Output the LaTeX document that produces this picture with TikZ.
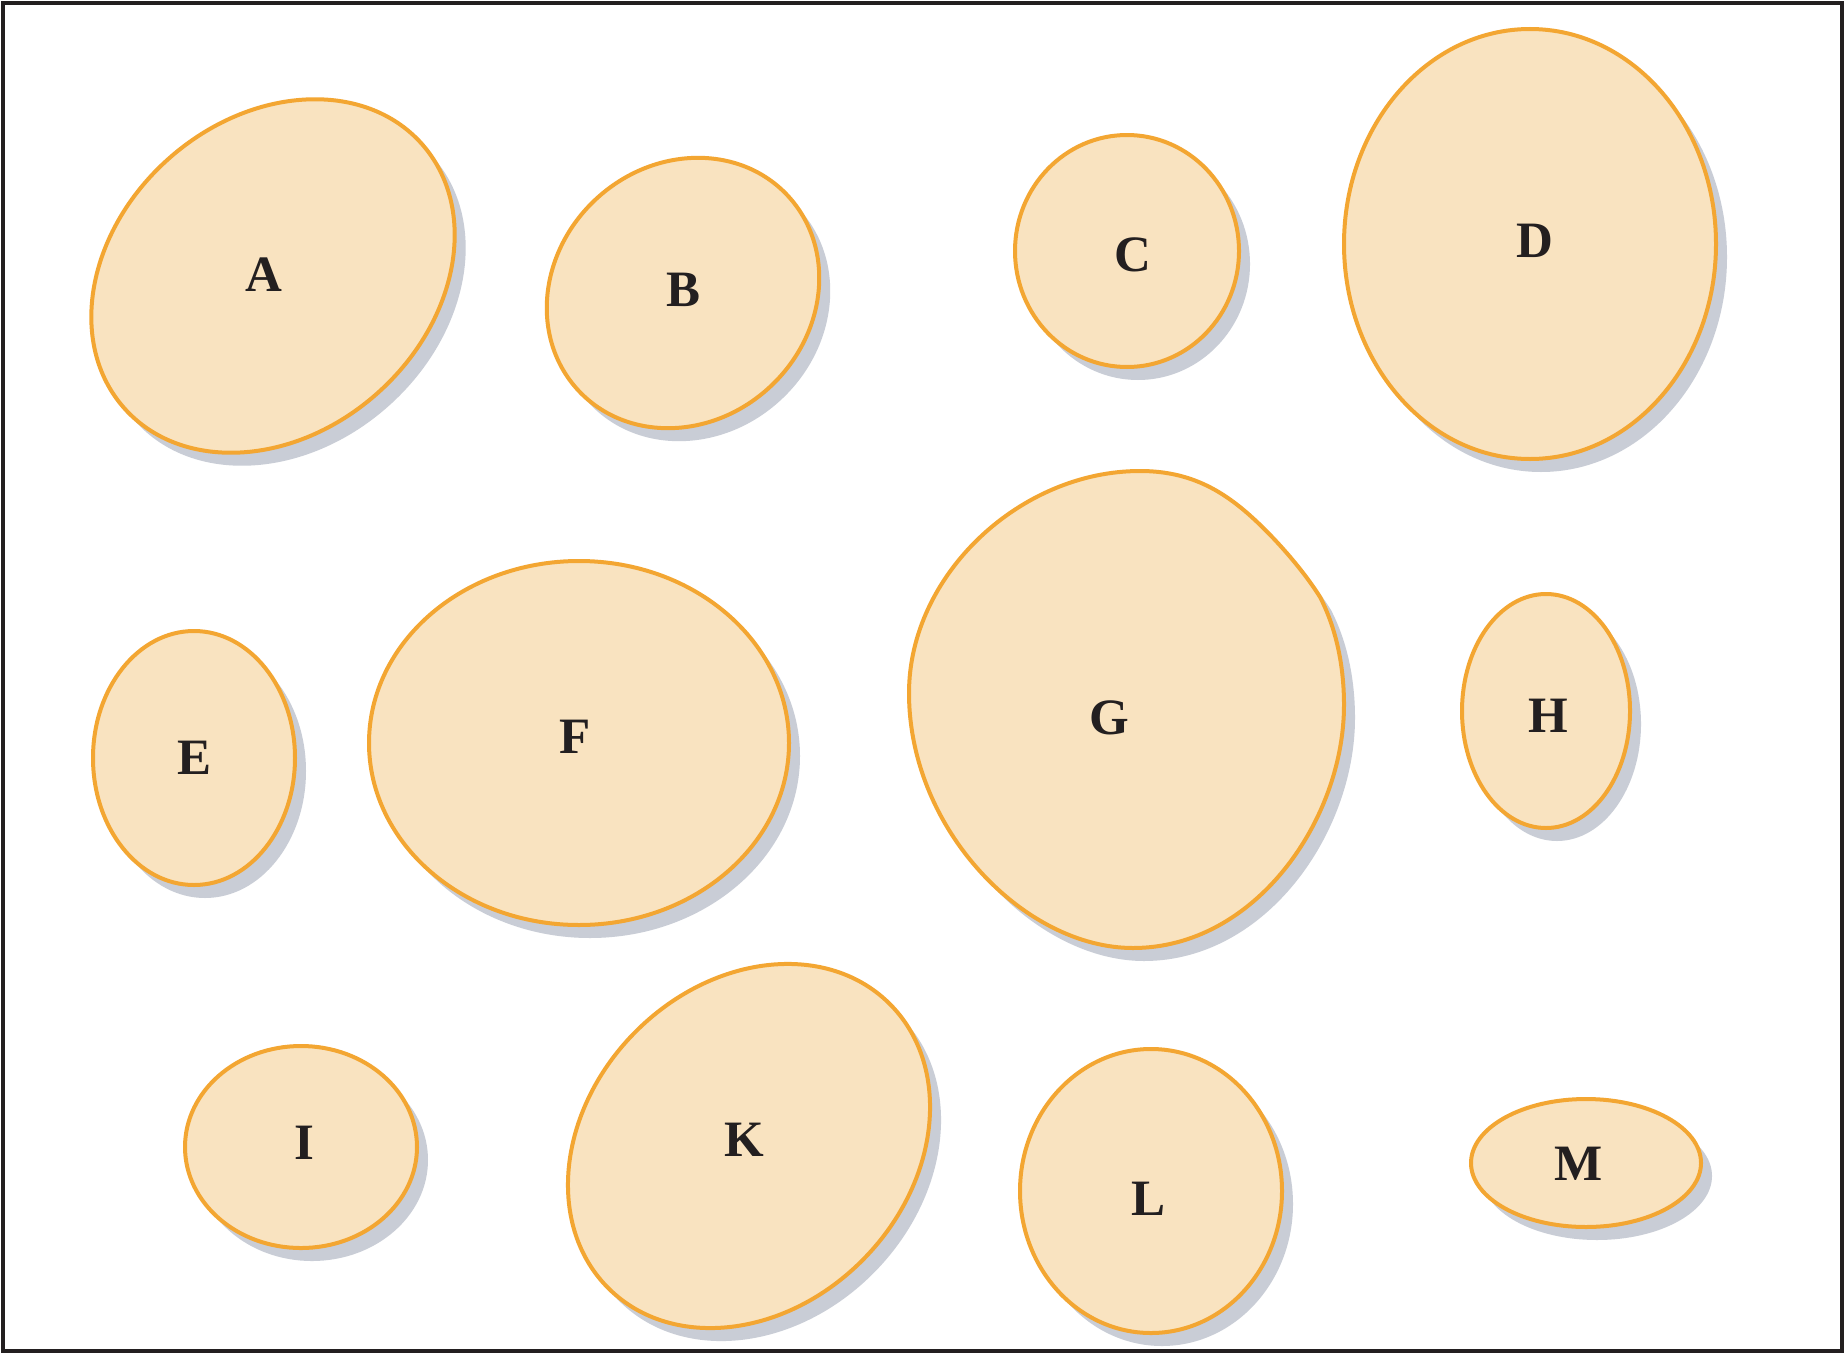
\documentclass[tikz,border=0pt]{standalone}
\usepackage{fontspec}
\setmainfont{Liberation Serif}
\definecolor{fillc}{RGB}{249,227,192}
\definecolor{strokec}{RGB}{243,166,50}
\definecolor{shadowc}{RGB}{201,205,214}
\definecolor{inkc}{RGB}{35,31,32}
\tikzset{
  blobstyle/.style={fill=fillc, draw=strokec, line width=4pt},
  shadowstyle/.style={fill=shadowc},
  letter/.style={text=inkc, inner sep=0pt, font=\fontsize{51}{51}\selectfont\bfseries},
  framestyle/.style={draw=inkc, line width=3.5pt}
}
\newcommand\myell[5]{%
  \fill[shadowstyle, rotate around={#5:(#1+11,#2+13)}] (#1+11,#2+13) ellipse [x radius=#3, y radius=#4];
  \draw[blobstyle, rotate around={#5:(#1,#2)}] (#1,#2) ellipse [x radius=#3, y radius=#4];}
\begin{document}
\begin{tikzpicture}[x=1pt, y=-1pt]
\useasboundingbox (0,0) rectangle (1846,1354);
\fill[white] (0,0) rectangle (1846,1354);
\draw[framestyle] (3,3) rectangle (1842,1351);
% ellipses
\myell{273}{276}{199}{157}{41.6}
\myell{683}{293}{143}{128}{43}
\myell{1127}{251}{112}{116}{0}
\myell{1530}{244}{186}{215}{0}
\myell{194}{758}{101}{127}{0}
\myell{579}{743}{210}{182}{0}
\myell{1546}{711}{84}{117}{0}
\myell{301}{1147}{116}{101}{0}
\myell{749}{1146}{200}{161}{45.75}
\myell{1151}{1191}{131}{142}{0}
\myell{1586}{1163}{115}{64}{0}
% blob G
\fill[shadowstyle, shift={(11,13)}] (1140,471) .. controls (1185,471) and (1215,487) .. (1240,507)
  .. controls (1265,527) and (1300,565) .. (1320,597)
  .. controls (1337,630) and (1344,668) .. (1344,705)
  .. controls (1344,820) and (1255,948) .. (1133,948)
  .. controls (1025,948) and (909,830) .. (909,693)
  .. controls (909,575) and (1020,471) .. (1140,471) -- cycle;
\draw[blobstyle] (1140,471) .. controls (1185,471) and (1215,487) .. (1240,507)
  .. controls (1265,527) and (1300,565) .. (1320,597)
  .. controls (1337,630) and (1344,668) .. (1344,705)
  .. controls (1344,820) and (1255,948) .. (1133,948)
  .. controls (1025,948) and (909,830) .. (909,693)
  .. controls (909,575) and (1020,471) .. (1140,471) -- cycle;
% labels
\node[letter] (A) at (264,275) {A};
\node[letter] (B) at (683,290) {B};
\node[letter] (C) at (1133,255) {C};
\node[letter] (D) at (1535,241) {D};
\node[letter] (E) at (195,758) {E};
\node[letter] (F) at (575,737) {F};
\node[letter] (G) at (1109,718) {G};
\node[letter] (H) at (1548,716) {H};
\node[letter] (I) at (304,1143) {I};
\node[letter] (K) at (744,1140) {K};
\node[letter] (L) at (1148,1199) {L};
\node[letter] (M) at (1579,1164) {M};
\end{tikzpicture}
\end{document}
